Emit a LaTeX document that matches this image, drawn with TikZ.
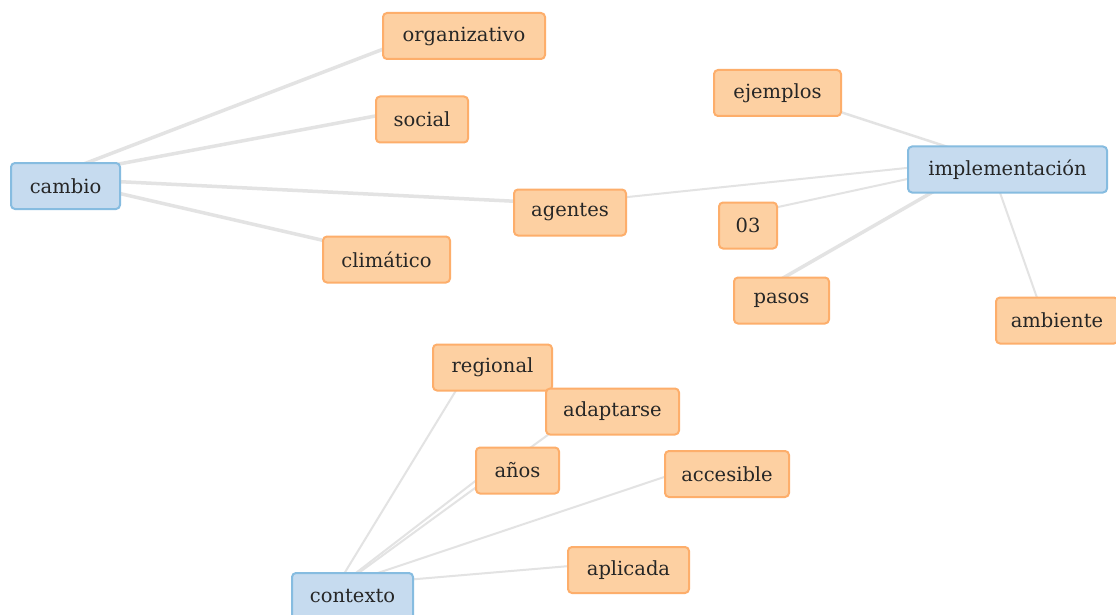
\documentclass[tikz,border=0pt]{standalone}
\usepackage{fontspec}
\setmainfont{DejaVu Serif}
\usetikzlibrary{calc,backgrounds}
\definecolor{edgegray}{HTML}{E3E3E3}
\definecolor{hubfill}{HTML}{C6DBEF}
\definecolor{hubline}{HTML}{86BCE0}
\definecolor{leaffill}{HTML}{FDD0A2}
\definecolor{leafline}{HTML}{FDAE6B}
\definecolor{txt}{HTML}{262626}
\tikzset{
  box/.style={rounded corners=4pt, line width=2pt, minimum height=46pt, inner xsep=8pt,
    text=txt, font=\fontsize{19.5}{23}\selectfont},
  hub/.style={box, draw=hubline, fill=hubfill},
  leaf/.style={box, draw=leafline, fill=leaffill},
  edgeline/.style={draw=edgegray, line width=#1},
  edgeline/.default=2.5pt
}
\begin{document}
\begin{tikzpicture}[x=1pt,y=-1pt]
\useasboundingbox (0,0) rectangle (1116,615);
% nodes
\node[hub, minimum width=109pt] (cambio) at (65.5,186) {cambio};
\node[leaf, minimum width=162pt] (organizativo) at (464,36) {organizativo};
\node[leaf, minimum width=92pt] (social) at (422,119.5) {social};
\node[leaf, minimum width=127pt] (climatico) at (386.5,259.5) {climático};
\node[leaf, minimum width=112pt] (agentes) at (570,212.5) {agentes};
\node[leaf, minimum width=127pt] (ejemplos) at (777.5,93) {ejemplos};
\node[hub, minimum width=199pt] (impl) at (1007.5,169.5) {implementación};
\node[leaf, minimum width=58pt] (n03) at (748,225.5) {03};
\node[leaf, minimum width=95pt] (pasos) at (781.5,300.5) {pasos};
\node[leaf, minimum width=122pt] (ambiente) at (1057,320.5) {ambiente};
\node[leaf, minimum width=119pt] (regional) at (492.5,367.5) {regional};
\node[leaf, minimum width=133pt] (adaptarse) at (612.5,411.5) {adaptarse};
\node[leaf, minimum width=83pt] (anos) at (517.5,470.5) {años};
\node[leaf, minimum width=124pt] (accesible) at (727,474) {accesible};
\node[leaf, minimum width=121pt] (aplicada) at (628.5,570) {aplicada};
\node[hub, minimum width=121pt] (contexto) at (352.5,596) {contexto};
% edges
\begin{pgfonlayer}{background}
\fill[white] (0,0) rectangle (1116,615);
\draw[edgeline=3.5pt] ($(cambio)+(0,-15)$) -- ($(organizativo)+(-44,-1)$);
\draw[edgeline=3.5pt] ($(cambio)+(0,-12)$) -- ($(social)+(-12,-10)$);
\draw[edgeline=3.5pt] ($(cambio)+(0,-7)$) -- ($(agentes)+(0,-8.5)$);
\draw[edgeline=3.5pt] ($(cambio)+(0,-5)$) -- ($(climatico)+(0,-4.5)$);
\draw[edgeline=2.5pt] ($(ejemplos)+(0,-1.5)$) -- ($(impl)+(-47.5,-18.5)$);
\draw[edgeline=2pt] ($(agentes)+(0,-9.5)$) -- ($(impl)+(0,-12)$);
\draw[edgeline=2pt] ($(n03)+(0,-12)$) -- ($(impl)+(-7.5,-10.5)$);
\draw[edgeline=3.5pt] ($(pasos)+(-11.5,-15)$) -- ($(impl)+(-57.5,12.5)$);
\draw[edgeline=2pt] ($(impl)+(-15.5,0.5)$) -- ($(ambiente)+(-12,0)$);
\draw[edgeline=2pt] ($(contexto)+(-22,0)$) -- ($(regional)+(-22.5,0)$);
\draw[edgeline=2pt] ($(contexto)+(-26.5,0)$) -- ($(anos)+(-17.5,-8.5)$);
\draw[edgeline=2pt] ($(contexto)+(-25.5,0)$) -- ($(adaptarse)+(-32.5,0)$);
\draw[edgeline=2pt] ($(contexto)+(0,-14.5)$) -- ($(accesible)+(-27,-9)$);
\draw[edgeline=2pt] ($(contexto)+(0,-11.5)$) -- ($(aplicada)+(0,-9)$);
\end{pgfonlayer}
\end{tikzpicture}
\end{document}
